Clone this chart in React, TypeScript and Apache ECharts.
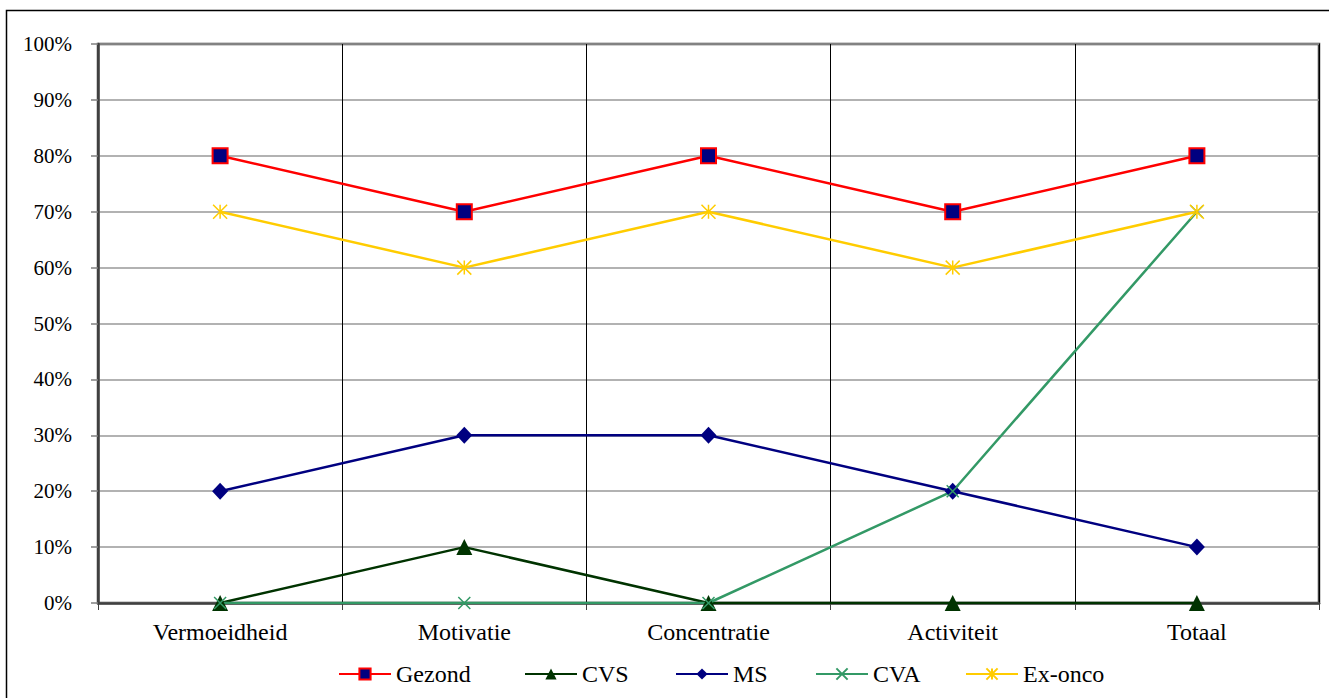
import React, { useEffect, useRef } from "react";
import * as echarts from "echarts";

const categories = ["Vermoeidheid", "Motivatie", "Concentratie", "Activiteit", "Totaal"];
const seriesNames = ["Gezond", "CVS", "MS", "CVA", "Ex-onco"];
const gezond = [80, 70, 80, 70, 80];
const cvs = [0, 10, 0, 0, 0];
const ms = [20, 30, 30, 20, 10];
const cva = [0, 0, 0, 20, 70];
const exOnco = [70, 60, 70, 60, 70];

const FONT = "Liberation Serif";
const CROSS = "path://M0,0L10,10M10,0L0,10";
const STAR = "path://M5,0L5,10M0,0L10,10M10,0L0,10";
const legendLeft = [333, 519, 670, 810, 960];

export default function App() {
  const ref = useRef<HTMLDivElement>(null);
  useEffect(() => {
    if (!ref.current) return;
    const chart = echarts.init(ref.current, undefined, { renderer: "svg" });
    chart.setOption({
      animation: false,
      backgroundColor: "#fff",
      textStyle: { fontFamily: FONT },
      graphic: [
        {
          type: "rect",
          shape: { x: 6.5, y: 10.5, width: 1400, height: 800 },
          style: { fill: "none", stroke: "#000", lineWidth: 1.5 },
          z: 0,
        },
      ],
      grid: {
        left: 98,
        top: 44,
        right: 10,
        bottom: 95,
        show: true,
        borderColor: "#404040",
        borderWidth: 2.5,
        backgroundColor: "transparent",
      },
      legend: seriesNames.map((n, i) => ({
        left: legendLeft[i],
        top: 657,
        itemWidth: 52,
        itemHeight: 14,
        textStyle: { fontFamily: FONT, fontSize: 24, color: "#000" },
        data: [n],
      })),
      xAxis: {
        type: "category",
        data: categories,
        boundaryGap: true,
        axisLine: { show: true, lineStyle: { color: "#404040", width: 2.5 } },
        axisTick: { show: true, length: 7, lineStyle: { color: "#404040", width: 1 } },
        axisLabel: { fontFamily: FONT, fontSize: 24, color: "#000", margin: 17 },
        splitLine: { show: true, lineStyle: { color: "#000", width: 1 } },
      },
      yAxis: {
        type: "value",
        min: 0,
        max: 100,
        interval: 10,
        axisLine: { show: true, lineStyle: { color: "#404040", width: 2.5 } },
        axisTick: { show: true, length: 7, lineStyle: { color: "#808080", width: 1.5 } },
        axisLabel: {
          fontFamily: FONT,
          fontSize: 21,
          color: "#000",
          margin: 26,
          formatter: "{value}%",
        },
        splitLine: { show: true, lineStyle: { color: "#999", width: 1.5 } },
      },
      series: [
        {
          name: "Gezond",
          type: "line",
          data: gezond,
          symbol: "rect",
          symbolSize: 15,
          lineStyle: { color: "#FF0000", width: 2.5 },
          itemStyle: { color: "#000080", borderColor: "#FF0000", borderWidth: 2 },
        },
        {
          name: "CVS",
          type: "line",
          data: cvs,
          symbol: "triangle",
          symbolSize: 16,
          lineStyle: { color: "#003300", width: 2.5 },
          itemStyle: { color: "#003300" },
        },
        {
          name: "MS",
          type: "line",
          data: ms,
          symbol: "diamond",
          symbolSize: [16, 17],
          lineStyle: { color: "#000080", width: 2.5 },
          itemStyle: { color: "#000080" },
        },
        {
          name: "CVA",
          type: "line",
          data: cva,
          symbol: CROSS,
          symbolSize: 12,
          lineStyle: { color: "#339966", width: 2.5 },
          itemStyle: { color: "#339966", borderColor: "#339966", borderWidth: 1.5 },
        },
        {
          name: "Ex-onco",
          type: "line",
          data: exOnco,
          symbol: STAR,
          symbolSize: 14,
          lineStyle: { color: "#FFCC00", width: 2.5 },
          itemStyle: { color: "#FFCC00", borderColor: "#FFCC00", borderWidth: 1.5 },
        },
      ],
    });
    return () => chart.dispose();
  }, []);
  return (
    <div
      ref={ref}
      style={{ position: "absolute", left: 0, top: 0, width: 1329, height: 698 }}
    />
  );
}
